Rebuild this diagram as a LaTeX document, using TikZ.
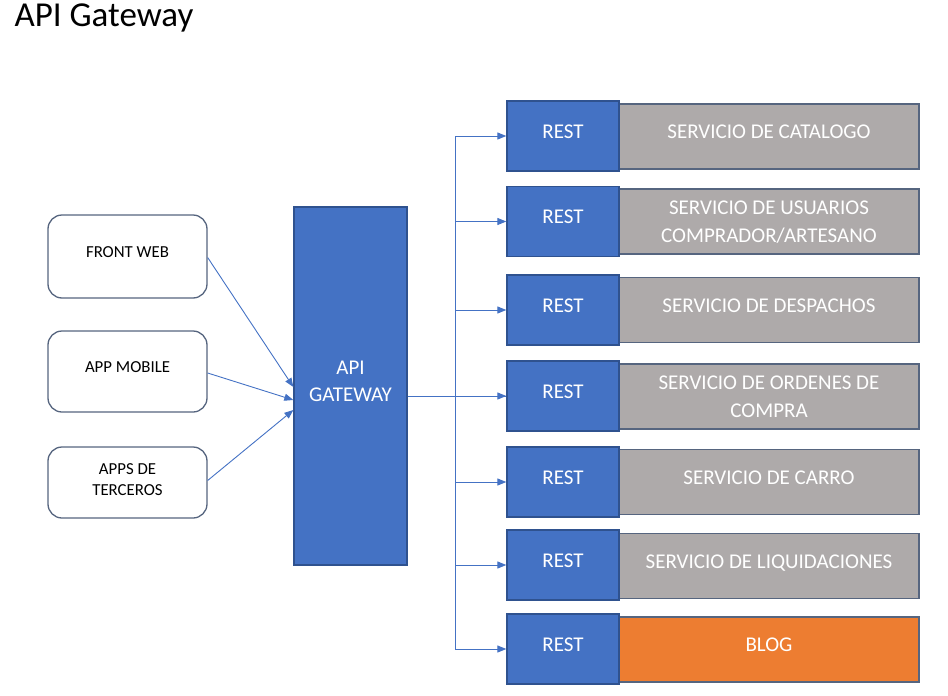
\documentclass[tikz,border=0pt]{standalone}
\usepackage{fontspec}
\setmainfont{Carlito}
\usepackage{xcolor}
\usepackage{tikz}
\usetikzlibrary{arrows.meta,calc}

\definecolor{gwblue}{HTML}{4472C4}
\definecolor{gwedge}{HTML}{2F528F}
\definecolor{svcgrey}{HTML}{AEAAAA}
\definecolor{svcedge}{HTML}{56657F}
\definecolor{blogorange}{HTML}{ED7D31}
\definecolor{clientedge}{HTML}{56657F}

\tikzset{
  client/.style={draw=clientedge,line width=1.3pt,fill=white,rounded corners=14pt,
    minimum width=159pt,align=center,font=\fontsize{16.8}{21}\selectfont,text depth=0.95em,inner sep=0pt},
  restbox/.style={draw=gwedge,line width=1.3pt,fill=gwblue,text=white,minimum width=112pt,
    minimum height=70pt,font=\fontsize{21}{25}\selectfont,text depth=0.9em,inner sep=0pt},
  svcbox/.style={draw=svcedge,line width=1.3pt,fill=svcgrey,text=white,minimum width=300pt,
    minimum height=65pt,align=center,font=\fontsize{21}{28}\selectfont,text depth=0.9em,inner sep=0pt},
  conn/.style={draw=gwblue,line width=0.9pt},
  arr/.style={conn,-{Triangle[length=9pt,width=7pt]}}
}

\begin{document}
\begin{tikzpicture}[x=1pt,y=-1pt]
  \useasboundingbox (0,0) rectangle (948,696);
  \node[anchor=base west,font=\fontsize{35}{40}\selectfont] (title) at (11,27) {API Gateway};

  % clients
  \node[client,minimum height=83pt] (front) at (127.5,256.5) {FRONT WEB};
  \node[client,minimum height=81pt] (mobile) at (127.5,371.5) {APP MOBILE};
  \node[client,minimum height=71pt,text depth=0.55em] (third) at (127.5,482.5) {APPS DE\\TERCEROS};

  % gateway
  \node[draw=gwedge,line width=1.3pt,fill=gwblue,text=white,minimum width=113pt,minimum height=358pt,
    align=center,font=\fontsize{21}{27}\selectfont,text depth=0.9em,inner sep=0pt] (gw) at (350.5,386) {API\\GATEWAY};

  % services
  \node[svcbox] (svc1) at (769,136.5) {SERVICIO DE CATALOGO};
  \node[svcbox,text depth=0pt] (svc2) at (769,221.5) {SERVICIO DE USUARIOS\\COMPRADOR/ARTESANO};
  \node[svcbox] (svc3) at (769,310) {SERVICIO DE DESPACHOS};
  \node[svcbox,text depth=0pt] (svc4) at (769,396.5) {SERVICIO DE ORDENES DE\\COMPRA};
  \node[svcbox] (svc5) at (769,482) {SERVICIO DE CARRO};
  \node[svcbox] (svc6) at (769,566) {SERVICIO DE LIQUIDACIONES};
  \node[svcbox,fill=blogorange] (blog) at (769,649.5) {BLOG};

  \node[restbox] (rest1) at (563,136) {REST};
  \node[restbox] (rest2) at (563,221.5) {REST};
  \node[restbox] (rest3) at (563,310) {REST};
  \node[restbox] (rest4) at (563,396) {REST};
  \node[restbox] (rest5) at (563,482) {REST};
  \node[restbox] (rest6) at (563,565) {REST};
  \node[restbox] (rest7) at (563,649) {REST};

  % client arrows
  \draw[arr] ([yshift=-1pt]front.east) -- ([yshift=-1pt]gw.west);
  \draw[arr] ([yshift=-1.5pt]mobile.east) -- ([yshift=-14pt]gw.west);
  \draw[arr] ([yshift=2pt]third.east) -- ([yshift=-24pt]gw.west);

  % bus to rest
  \coordinate (bus) at (455,0);
  \draw[conn] (rest4.west -| gw.east) -- (rest4.west);
  \draw[conn] (rest1.west -| bus) -- (rest7.west -| bus);
  \draw[arr] (rest1.west -| bus) -- (rest1.west);
  \draw[arr] (rest2.west -| bus) -- (rest2.west);
  \draw[arr] (rest3.west -| bus) -- (rest3.west);
  \draw[arr] (rest4.west -| bus) -- (rest4.west);
  \draw[arr] (rest5.west -| bus) -- (rest5.west);
  \draw[arr] (rest6.west -| bus) -- (rest6.west);
  \draw[arr] (rest7.west -| bus) -- (rest7.west);
\end{tikzpicture}
\end{document}
